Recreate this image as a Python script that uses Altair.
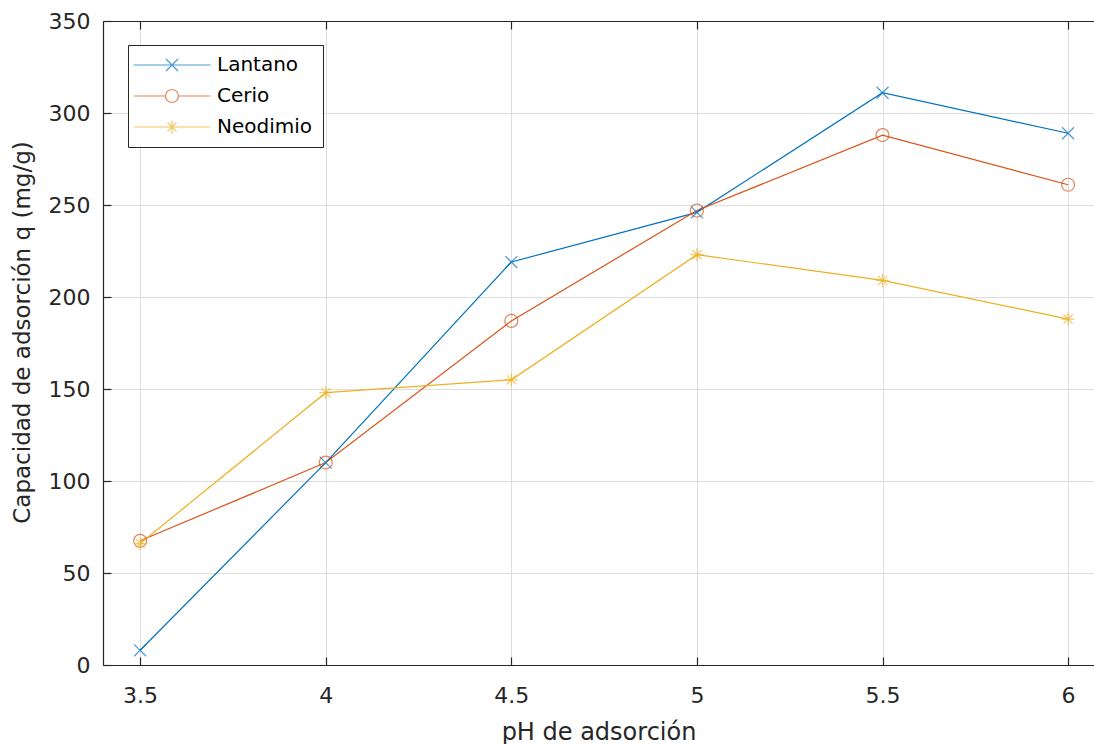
import altair as alt
import pandas as pd

# ---- data ----
ph = [3.5, 4, 4.5, 5, 5.5, 6]
lantano = [8, 110, 219, 246, 311, 289]
cerio = [67.5, 110, 187, 247, 288, 261]
neodimio = [66, 148, 155, 223, 209, 188]

series_names = ["Lantano", "Cerio", "Neodimio"]
series_colors = ["#0072BD", "#D95319", "#EDB120"]
x_ticks = [3.5, 4, 4.5, 5, 5.5, 6]
y_ticks = [0, 50, 100, 150, 200, 250, 300, 350]

rows = []
for name, vals in zip(series_names, [lantano, cerio, neodimio]):
    for p, v in zip(ph, vals):
        rows.append({"ph": p, "q": v, "serie": name})
df = pd.DataFrame(rows)

FONT = "DejaVu Sans"
AX = "#262626"
W, H = 991, 644
TICK = 8

# marker shapes (unit paths, scaled by sqrt(size)/2)
marker_paths = [
    "M-0.92,-0.92L0.92,0.92M0.92,-0.92L-0.92,0.92",
    "M1,0A1,1 0 1,1 -1,0A1,1 0 1,1 1,0",
    "M-1,0L1,0M0,-1L0,1M-0.71,-0.71L0.71,0.71M0.71,-0.71L-0.71,0.71",
]
# legend symbols: line + marker
s0, s1 = -2.23, 9.62
c = 3.69
legend_paths = [
    f"M{s0},0L{s1},0M{c-0.92},-0.92L{c+0.92},0.92M{c+0.92},-0.92L{c-0.92},0.92",
    f"M{s0},0L{c-1},0M{c+1},0L{s1},0M{c+1},0A1,1 0 1,1 {c-1},0A1,1 0 1,1 {c+1},0",
    f"M{s0},0L{s1},0M{c},-1L{c},1M{c-0.71},-0.71L{c+0.71},0.71M{c+0.71},-0.71L{c-0.71},0.71",
]

xs = alt.Scale(domain=[3.4, 3.4 + W / 371.2], nice=False, zero=False)
ys = alt.Scale(domain=[0, 350], nice=False, zero=False)
cs = alt.Scale(domain=series_names, range=series_colors)

base = alt.Chart(df)

# Layer A: lines + labelled axes + grid
ax_x_main = alt.Axis(orient="bottom", values=x_ticks, format="~g", domain=True, domainColor=AX,
                     domainWidth=1.2, ticks=False, grid=True, gridColor="#dedede", gridWidth=1,
                     labelFont=FONT, labelFontSize=22, labelColor=AX, labelPadding=20,
                     labelFlush=False, title="pH de adsorción", titleFont=FONT, titleFontSize=24,
                     titleFontWeight="normal", titleColor=AX, titleBaseline="alphabetic", titleY=74)
ax_y_main = alt.Axis(orient="left", values=y_ticks, domain=True, domainColor=AX, domainWidth=1.2,
                     ticks=False, grid=True, gridColor="#dedede", gridWidth=1,
                     labelFont=FONT, labelFontSize=22, labelColor=AX, labelPadding=13,
                     labelFlush=False, title="Capacidad de adsorción q (mg/g)", titleFont=FONT,
                     titleFontSize=23, titleFontWeight="normal", titleColor=AX,
                     titleBaseline="alphabetic", titleX=-73.5, titleY=311)
lines = base.mark_line(strokeWidth=1.2, clip=False).encode(
    x=alt.X("ph:Q", scale=xs, axis=ax_x_main),
    y=alt.Y("q:Q", scale=ys, axis=ax_y_main),
    color=alt.Color("serie:N", scale=cs, legend=None),
    detail="serie:N",
)

# Layer B: markers + inward ticks bottom/left
ax_x_tick = alt.Axis(orient="bottom", offset=-TICK, values=x_ticks, domain=False, ticks=True,
                     tickSize=TICK, tickColor=AX, tickWidth=1.2, labels=False, grid=False, title=None)
ax_y_tick = alt.Axis(orient="left", offset=-TICK, values=y_ticks, domain=False, ticks=True,
                     tickSize=TICK, tickColor=AX, tickWidth=1.2, labels=False, grid=False, title=None)
points = base.mark_point(filled=False, strokeWidth=1.2, size=169, clip=False).encode(
    x=alt.X("ph:Q", scale=xs, axis=ax_x_tick),
    y=alt.Y("q:Q", scale=ys, axis=ax_y_tick),
    color=alt.Color("serie:N", scale=cs, legend=None),
    shape=alt.Shape("serie:N", scale=alt.Scale(domain=series_names, range=marker_paths), legend=None),
)

# Layer C: top box line + legend (no marks drawn)
leg = dict(title=None, orient="none", legendX=25, legendY=24, direction="vertical",
           symbolSize=169, symbolStrokeWidth=1.2, labelFont=FONT, labelFontSize=20,
           labelColor="black", labelOffset=59, padding=10, rowPadding=11,
           strokeColor=AX, fillColor="white", cornerRadius=0)
ax_x_top = alt.Axis(orient="top", values=x_ticks, domain=True, domainColor=AX, domainWidth=1.2,
                    ticks=False, labels=False, grid=False, title=None)
legend_layer = base.transform_filter("false").mark_point(filled=False, strokeWidth=1.2).encode(
    x=alt.X("ph:Q", scale=xs, axis=ax_x_top),
    y=alt.Y("q:Q", scale=ys, axis=None),
    color=alt.Color("serie:N", scale=cs, legend=alt.Legend(**leg)),
    shape=alt.Shape("serie:N", scale=alt.Scale(domain=series_names, range=legend_paths),
                    legend=alt.Legend(**leg)),
)

# Layer D: inward ticks on top
ax_x_top_tick = alt.Axis(orient="top", offset=-TICK, values=x_ticks, domain=False, ticks=True,
                         tickSize=TICK, tickColor=AX, tickWidth=1.2, labels=False, grid=False,
                         title=None)
top_ticks = base.transform_filter("false").mark_point().encode(
    x=alt.X("ph:Q", scale=xs, axis=ax_x_top_tick),
    y=alt.Y("q:Q", scale=ys, axis=None),
)

chart = alt.layer(lines, points, legend_layer, top_ticks).resolve_axis(
    x="independent", y="independent"
).resolve_scale(
    color="independent", shape="independent"
).properties(
    width=W, height=H,
    autosize=alt.AutoSizeParams(type="none"),
    padding={"left": 103, "top": 21, "right": 0, "bottom": 79},
    background="white",
).configure_view(stroke=None)

chart.save("out.html", embed_options={"renderer": "svg", "actions": False})
